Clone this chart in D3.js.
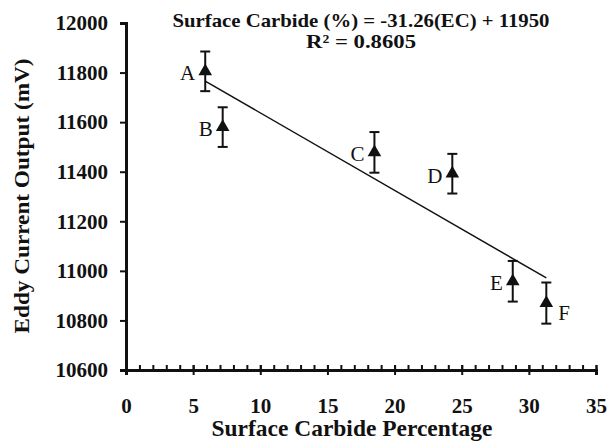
<!DOCTYPE html>
<html>
<head>
<meta charset="utf-8">
<script src="https://cdn.jsdelivr.net/npm/d3@7"></script>
<style>
  body { margin: 0; background: #fff; }
  text { font-family: "Liberation Serif", "Times New Roman", serif; fill: #111; }
</style>
</head>
<body>
<div id="chart"></div>
<script>
// samples A-F
var labels = ["A", "B", "C", "D", "E", "F"];
var carbide = [5.9, 7.2, 18.5, 24.3, 28.8, 31.3];
var eddy = [11805, 11580, 11478, 11392, 10958, 10870];
var errs = [80, 80, 82, 80, 82, 83];

var xTicks = [0, 5, 10, 15, 20, 25, 30, 35];
var xMinor = d3.range(0, 36, 1);
var yTicks = [10600, 10800, 11000, 11200, 11400, 11600, 11800, 12000];

// fitted line: y = -31.26x + 11950
var slope = -31.26, intercept = 11950;

var W = 609, H = 445;
var serif = '"Liberation Serif", "Times New Roman", serif';
var svg = d3.select("#chart").append("svg").attr("width", W).attr("height", H);

var x = d3.scaleLinear().domain([0, 35]).range([126, 596]);
var y = d3.scaleLinear().domain([10600, 12000]).range([370, 23]);

// minor x ticks (inside)
svg.append("g")
  .attr("transform", "translate(0," + y(10600) + ")")
  .call(d3.axisBottom(x).tickValues(xMinor).tickSize(-5).tickFormat(""))
  .call(function(g) {
    g.select(".domain").remove();
    g.selectAll("line").attr("stroke", "#111").attr("stroke-width", 2);
  });

// major x ticks
var gx = svg.append("g")
  .attr("transform", "translate(0," + y(10600) + ")")
  .attr("font-family", serif)
  .call(d3.axisBottom(x).tickValues(xTicks).tickSizeOuter(0).tickSize(5).tickPadding(23));
gx.select(".domain").attr("stroke", "#111").attr("stroke-width", 3);
gx.selectAll("line").attr("y1", -5).attr("stroke", "#111").attr("stroke-width", 2);
gx.selectAll("text").style("font-family", serif).style("font-size", "21px").style("font-weight", "bold").attr("fill", "#111");

// y axis
var gy = svg.append("g")
  .attr("transform", "translate(" + x(0) + ",0)")
  .call(d3.axisLeft(y).tickValues(yTicks).tickFormat(d3.format("d")).tickSizeOuter(0).tickSize(6).tickPadding(12));
gy.select(".domain").attr("stroke", "#111").attr("stroke-width", 3);
gy.selectAll("line").attr("stroke", "#111").attr("stroke-width", 2);
gy.selectAll("text").style("font-family", serif).style("font-size", "21px").style("font-weight", "bold").attr("fill", "#111");

// trend line over the data range
var x0 = d3.min(carbide), x1 = d3.max(carbide);
svg.append("line")
  .attr("x1", x(x0)).attr("y1", y(slope * x0 + intercept))
  .attr("x2", x(x1)).attr("y2", y(slope * x1 + intercept))
  .attr("stroke", "#111").attr("stroke-width", 1.5);

var pts = labels.map(function(d, i) {
  return { label: d, cx: carbide[i], cy: eddy[i], e: errs[i] };
});

var pt = svg.selectAll(".pt").data(pts).enter().append("g").attr("class", "pt");

// error bars
pt.append("line")
  .attr("x1", function(d) { return x(d.cx); }).attr("x2", function(d) { return x(d.cx); })
  .attr("y1", function(d) { return y(d.cy + d.e); }).attr("y2", function(d) { return y(d.cy - d.e); })
  .attr("stroke", "#111").attr("stroke-width", 2);
pt.selectAll(".cap").data(function(d) { return [d.cy + d.e, d.cy - d.e].map(function(v) { return { cx: d.cx, v: v }; }); })
  .enter().append("line")
  .attr("x1", function(d) { return x(d.cx) - 5; }).attr("x2", function(d) { return x(d.cx) + 5; })
  .attr("y1", function(d) { return y(d.v); }).attr("y2", function(d) { return y(d.v); })
  .attr("stroke", "#111").attr("stroke-width", 2);

// triangle markers
pt.append("path")
  .attr("d", d3.symbol().type(d3.symbolTriangle).size(80))
  .attr("transform", function(d) { return "translate(" + x(d.cx) + "," + y(d.cy) + ")"; })
  .attr("fill", "#111");

// point labels
pt.append("text")
  .attr("x", function(d) { return d.label == "F" ? x(d.cx) + 12 : x(d.cx) - 10; })
  .attr("y", function(d) { return d.label == "F" ? y(d.cy) + 17 : y(d.cy) + 9; })
  .attr("text-anchor", function(d) { return d.label == "F" ? "start" : "end"; })
  .style("font-size", "21px")
  .text(function(d) { return d.label; });

// equation
svg.append("text").attr("x", 361).attr("y", 27).attr("text-anchor", "middle")
  .attr("textLength", 377).attr("lengthAdjust", "spacingAndGlyphs")
  .style("font-size", "19px").style("font-weight", "bold")
  .text("Surface Carbide (%) = -31.26(EC) + 11950");
svg.append("text").attr("x", 361).attr("y", 48).attr("text-anchor", "middle")
  .attr("textLength", 110).attr("lengthAdjust", "spacingAndGlyphs")
  .style("font-size", "19px").style("font-weight", "bold")
  .text("R² = 0.8605");

// axis titles
svg.append("text").attr("x", 352).attr("y", 436).attr("text-anchor", "middle")
  .attr("textLength", 281).attr("lengthAdjust", "spacingAndGlyphs")
  .style("font-size", "23px").style("font-weight", "bold")
  .text("Surface Carbide Percentage");
svg.append("text").attr("transform", "translate(29,196) rotate(-90)").attr("text-anchor", "middle")
  .attr("textLength", 275).attr("lengthAdjust", "spacingAndGlyphs")
  .style("font-size", "22px").style("font-weight", "bold")
  .text("Eddy Current Output (mV)");
</script>
</body>
</html>
